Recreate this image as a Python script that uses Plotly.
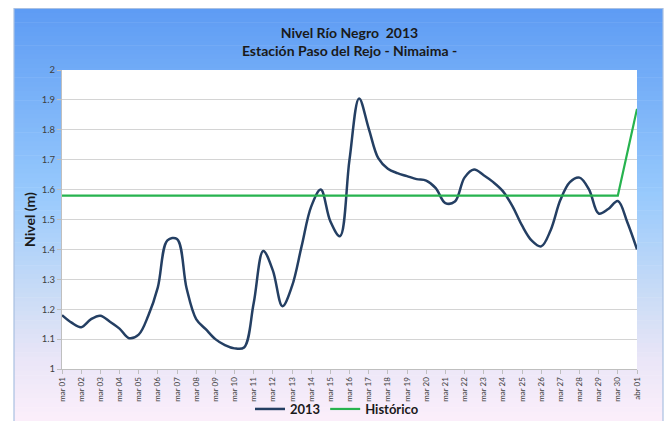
import plotly.graph_objects as go
import pandas as pd

# ---------------- data ----------------
dias = ["mar 01", "mar 02", "mar 03", "mar 04", "mar 05", "mar 06", "mar 07", "mar 08",
        "mar 09", "mar 10", "mar 11", "mar 12", "mar 13", "mar 14", "mar 15", "mar 16",
        "mar 17", "mar 18", "mar 19", "mar 20", "mar 21", "mar 22", "mar 23", "mar 24",
        "mar 25", "mar 26", "mar 27", "mar 28", "mar 29", "mar 30", "abr 01"]

# 2013 readings, every 12 hours from 2013-03-01 00:00
nivel_2013 = [1.18, 1.155, 1.14, 1.166, 1.178, 1.158, 1.135, 1.103, 1.115, 1.178,
              1.273, 1.43, 1.435, 1.27, 1.167, 1.133, 1.10, 1.08, 1.069, 1.072,
              1.22, 1.395, 1.33, 1.21, 1.277, 1.41, 1.543, 1.60, 1.494, 1.444,
              1.70, 1.905, 1.805, 1.705, 1.67, 1.655, 1.645, 1.635, 1.63, 1.605,
              1.555, 1.56, 1.64, 1.667, 1.648, 1.625, 1.595, 1.545, 1.48, 1.43,
              1.41, 1.465, 1.565, 1.625, 1.64, 1.60, 1.52, 1.535, 1.562, 1.49,
              1.40]

# historical reference, daily
nivel_historico = [1.58] * 30 + [1.87]

y_ticks = [1, 1.1, 1.2, 1.3, 1.4, 1.5, 1.6, 1.7, 1.8, 1.9, 2]

t_2013 = pd.date_range("2013-03-01", periods=len(nivel_2013), freq="12h")
t_dias = pd.date_range("2013-03-01", periods=len(dias), freq="D")

# ---------------- figure ----------------
W, H = 667, 421
L, R, T, B = 62, 637, 70, 369   # plot area in pixels


def xp(px):
    return (px - L) / (R - L)


def yp(py):
    return (B - py) / (B - T)


def hex2rgb(h):
    h = h.lstrip("#")
    return tuple(int(h[i:i + 2], 16) for i in (0, 2, 4))


stops = [(0.0, "#5E9CF4"), (0.45, "#98CAFD"), (0.72, "#CFDEF6"), (0.85, "#EAE6F8"), (1.0, "#FCEFFB")]


def grad(f):
    for (f0, c0), (f1, c1) in zip(stops[:-1], stops[1:]):
        if f0 <= f <= f1:
            a = (f - f0) / (f1 - f0)
            r0, g0, b0 = hex2rgb(c0)
            r1, g1, b1 = hex2rgb(c1)
            return "rgb(%d,%d,%d)" % (r0 + (r1 - r0) * a, g0 + (g1 - g0) * a, b0 + (b1 - b0) * a)
    return stops[-1][1]


shapes = []
fx0, fx1, fy0, fy1 = 14, 663, 8.5, 421
nb = 90
for i in range(nb):
    y0 = fy0 + (fy1 - fy0) * i / nb
    y1 = fy0 + (fy1 - fy0) * (i + 1) / nb + 0.6
    shapes.append(dict(type="rect", xref="paper", yref="paper", layer="below",
                       x0=xp(fx0), x1=xp(fx1), y0=yp(y1), y1=yp(y0),
                       line=dict(width=0), fillcolor=grad((i + 0.5) / nb)))
# frame border
shapes.append(dict(type="rect", xref="paper", yref="paper", layer="below",
                   x0=xp(fx0), x1=xp(fx1), y0=yp(fy1 + 2), y1=yp(fy0),
                   line=dict(width=1.2, color="#A9C0E2"), fillcolor="rgba(0,0,0,0)"))
# white plot area
shapes.append(dict(type="rect", xref="paper", yref="paper", layer="below",
                   x0=0, x1=1, y0=0, y1=1, line=dict(width=0), fillcolor="white"))

fig = go.Figure()
fig.add_trace(go.Scatter(x=t_2013, y=nivel_2013, mode="lines", name="2013",
                         line=dict(color="#243F63", width=2.5, shape="spline", smoothing=1.0)))
fig.add_trace(go.Scatter(x=t_dias, y=nivel_historico, mode="lines", name="Histórico",
                         line=dict(color="#27B34F", width=2.2)))

fig.update_layout(
    width=W, height=H,
    margin=dict(l=L, r=W - R, t=T, b=H - B, pad=0, autoexpand=False),
    paper_bgcolor="white",
    plot_bgcolor="white",
    shapes=shapes,
    font=dict(family="Lato, 'Open Sans', sans-serif", color="#404040"),
    title=dict(text="Nivel Río Negro  2013<br>Estación Paso del Rejo - Nimaima -",
               x=0.5, xref="paper", xanchor="center",
               y=1 - 38 / H, yref="container", yanchor="middle",
               font=dict(size=14, color="#1A1A1A", weight="bold")),
    showlegend=True,
    legend=dict(orientation="h", x=xp(250), xref="paper", xanchor="left",
                y=1 - 409 / H, yref="container", yanchor="middle",
                font=dict(size=13, color="#1A1A1A", weight="bold"),
                bgcolor="rgba(0,0,0,0)", itemwidth=30, tracegroupgap=0),
)

fig.update_xaxes(
    type="date", automargin=False,
    range=[t_dias[0], t_dias[-1]],
    tickmode="array", tickvals=t_dias, ticktext=dias,
    tickangle=-90, tickfont=dict(size=8, color="#404040"),
    showgrid=False, showline=True, linecolor="#BFBFBF", linewidth=1,
    ticks="outside", ticklen=4, tickcolor="#BFBFBF",
    zeroline=False,
)
fig.update_yaxes(
    range=[1, 2], automargin=False, tickmode="array", tickvals=y_ticks,
    ticktext=[("%g" % v) for v in y_ticks],
    tickfont=dict(size=9.5, color="#404040"),
    showgrid=True, gridcolor="#D4D4D4", gridwidth=1.3,
    showline=True, linecolor="#BFBFBF", linewidth=1,
    ticks="outside", ticklen=4, tickcolor="#BFBFBF",
    zeroline=False,
    title=dict(text="Nivel (m)", font=dict(size=14, color="#1A1A1A", weight="bold"), standoff=2),
)

fig.write_html("out.html", config={"displayModeBar": False},
               post_script="document.body.style.margin='0';document.body.style.padding='0';"
                           "document.body.style.overflow='hidden';")
